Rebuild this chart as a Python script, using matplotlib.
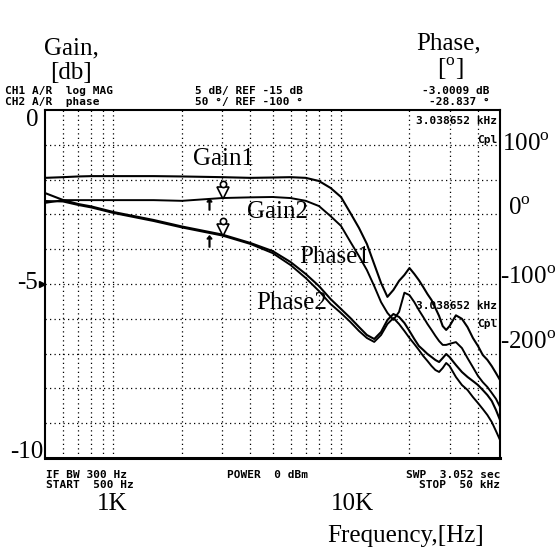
import numpy as np
import matplotlib
matplotlib.use('Agg')
import matplotlib.pyplot as plt
from matplotlib.transforms import offset_copy, blended_transform_factory

plt.rcParams['font.family'] = 'Liberation Serif'
plt.rcParams['mathtext.fontset'] = 'custom'
plt.rcParams['mathtext.rm'] = 'Liberation Serif'

# values
freq_hz = [500, 600, 700, 800, 1000, 1500, 2000, 3000, 4000, 5000, 6000, 7000, 8000, 9000,
           10000, 11000, 12000, 13000, 14000, 15000, 16000, 17000, 18000, 19000, 20000,
           21000, 22000, 23000, 24000, 25000, 26000, 27000, 28000, 29000, 30000,
           32000, 34000, 36000, 38000, 40000, 42000, 44000, 46000, 48000, 50000]
gain1_db = [-1.95, -1.93, -1.91, -1.90, -1.90, -1.90, -1.91, -1.93, -1.95, -1.94, -1.93, -1.95,
            -2.04, -2.24, -2.50, -2.96, -3.39, -3.85, -4.43, -4.97, -5.37, -5.17, -4.91, -4.74,
            -4.54, -4.71, -4.89, -5.09, -5.29, -5.46, -5.69, -5.92, -6.21, -6.32, -6.21,
            -5.90, -6.00, -6.24, -6.55, -6.78, -7.04, -7.18, -7.36, -7.56, -7.76]
gain2_db = [-2.67, -2.59, -2.59, -2.59, -2.59, -2.59, -2.61, -2.53, -2.51, -2.50, -2.53, -2.61,
            -2.76, -3.05, -3.33, -3.79, -4.20, -4.60, -5.06, -5.52, -5.83, -6.03, -5.80, -5.25,
            -5.32, -5.52, -5.75, -5.95, -6.15, -6.32, -6.49, -6.64, -6.75, -6.75, -6.72,
            -6.67, -6.84, -7.13, -7.39, -7.64, -7.82, -7.96, -8.13, -8.30, -8.53]
phase1_deg = [30.7, 20.7, 14.9, 11.4, 3.4, -8.0, -17.4, -28.9, -41.1, -52.6, -68.4, -85.6,
              -102.9, -121.6, -135.9, -148.9, -161.8, -173.3, -179.0, -169.0, -151.7, -143.1,
              -147.4, -156.0, -167.5, -179.0, -189.1, -194.8, -200.6, -204.9, -209.2, -212.1,
              -206.4, -200.6, -204.9, -216.4, -226.4, -233.6, -239.4, -245.1, -252.3, -259.5,
              -268.1, -281.0, -295.4]
phase2_deg = [19.3, 18.5, 13.5, 9.9, 2.0, -9.5, -18.8, -30.3, -42.5, -55.5, -72.7, -91.4,
              -110.1, -128.7, -141.7, -154.6, -167.5, -177.6, -183.2, -173.3, -157.5, -148.9,
              -157.5, -167.5, -177.6, -186.2, -194.8, -203.5, -210.6, -217.8, -223.6, -226.4,
              -220.7, -213.5, -217.8, -233.6, -245.1, -252.3, -262.4, -271.0, -279.6, -288.2,
              -298.3, -311.2, -324.1]
marker_hz = 3038.652
ref_hz = 2630

W, H = 558, 552
fig = plt.figure(figsize=(W / 100, H / 100), dpi=100)
ax = fig.add_axes([45 / W, 1 - 458 / H, 455 / W, 348 / H])
ax.set_xscale('log')
ax.set_xlim(500, 50000)
ax.set_ylim(-10, 0)
ax.set_xticks([1000, 10000])
ax.set_xticks([f * m for m in (100, 1000, 10000) for f in range(1, 10)
               if 500 < f * m < 50000 and f != 1], minor=True)
ax.set_yticks(np.arange(-9, 0))
ax.tick_params(which='both', length=0, labelbottom=False, labelleft=False)
ax.grid(True, which='both', color='k', linestyle=(0, (1, 2.6)), linewidth=0.9)
for s in ax.spines.values():
    s.set_linewidth(1.5)
ax.spines['bottom'].set_linewidth(2.2)

ax2 = ax.twinx()
ax2.set_ylim(-350, 150)
ax2.axis('off')

ax.plot(freq_hz, gain1_db, color='k', lw=1.5)
ax.plot(freq_hz, gain2_db, color='k', lw=1.4)
ax2.plot(freq_hz, phase1_deg, color='k', lw=1.5)
ax2.plot(freq_hz, phase2_deg, color='k', lw=1.4)

# marker symbols at 3.038652 kHz
lf = np.log10(freq_hz)
for a, vals in ((ax, gain2_db), (ax2, phase1_deg)):
    vm = np.interp(np.log10(marker_hz), lf, vals)
    a.plot([marker_hz], [vm], marker='v', ms=8, mfc='white', mec='k', mew=1.2,
           transform=offset_copy(a.transData, fig=fig, y=5, units='dots'))
    a.plot([marker_hz], [vm], marker='o', ms=4.5, mfc='white', mec='k', mew=1.2,
           transform=offset_copy(a.transData, fig=fig, y=14, units='dots'))
    a.plot([ref_hz], [vm], marker=r'$\uparrow$', ms=8, color='k',
           transform=offset_copy(a.transData, fig=fig, y=-6, units='dots'))

# reference level marker
bt = blended_transform_factory(ax.transAxes, ax.transData)
ax.plot([-0.006], [-5], marker='>', ms=5, color='k', transform=bt, clip_on=False)


def label(x, y, s, **kw):
    kw.setdefault('ha', 'center')
    kw.setdefault('va', 'center')
    fig.text(x / W, 1 - y / H, s, **kw)


def mono(x, y, s, **kw):
    kw.setdefault('ha', 'left')
    label(x, y, s, family='DejaVu Sans Mono', weight='bold', size=8, **kw)


label(71, 48, 'Gain,', size=18)
label(71, 73, '[db]', size=18)
label(449, 43, 'Phase,', size=18)
label(450, 69, r'[$^{\rm o}$]', size=18)

label(39, 120, '0', ha='right', size=18)
label(38, 283, '-5', ha='right', size=18)
label(43, 452, '-10', ha='right', size=18)
label(502, 145, r'100$^{\rm o}$', ha='left', size=18)
label(508, 209, r'0$^{\rm o}$', ha='left', size=18)
label(500, 278, r'-100$^{\rm o}$', ha='left', size=18)
label(500, 343, r'-200$^{\rm o}$', ha='left', size=18)

label(112, 504, '1K', size=18)
label(352, 504, '10K', size=18)
label(406, 536, 'Frequency,[Hz]', size=18)

label(223, 159, 'Gain1', size=18)
label(278, 212, 'Gain2', size=18)
label(335, 257, 'Phase1', size=18)
label(292, 303, 'Phase2', size=18)

mono(5, 91, 'CH1 A/R  log MAG')
mono(5, 102, 'CH2 A/R  phase')
mono(195, 91, '5 dB/ REF -15 dB')
mono(195, 102, '50 °/ REF -100 °')
mono(490, 91, '-3.0009 dB', ha='right')
mono(490, 102, '-28.837 °', ha='right')
mono(497, 121, '3.038652 kHz', ha='right')
mono(497, 140, 'Cpl', ha='right')
mono(497, 306, '3.038652 kHz', ha='right')
mono(497, 324, 'Cpl', ha='right')
mono(46, 475, 'IF BW 300 Hz')
mono(46, 485, 'START  500 Hz')
mono(227, 475, 'POWER  0 dBm')
mono(500, 475, 'SWP  3.052 sec', ha='right')
mono(500, 485, 'STOP  50 kHz', ha='right')

fig.savefig('out.png', dpi=100)
